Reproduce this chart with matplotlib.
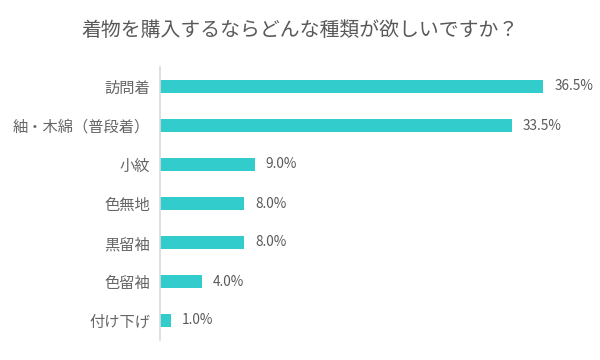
import matplotlib
matplotlib.use("Agg")
import matplotlib.pyplot as plt

plt.rcParams['font.family'] = ['Noto Sans CJK JP', 'DejaVu Sans']

categories = ["訪問着", "紬・木綿（普段着）", "小紋", "色無地", "黒留袖", "色留袖", "付け下げ"]
values = [36.5, 33.5, 9.0, 8.0, 8.0, 4.0, 1.0]
title = "着物を購入するならどんな種類が欲しいですか？"

bar_color = "#33CCCC"
text_color = "#595959"
label_color = "#666666"

fig = plt.figure(figsize=(6, 3.6), dpi=100)
ax = fig.add_axes([160/600, 1 - 340/360, 420/600, (340-67)/360])

ypos = list(range(len(categories)))
ax.barh(ypos, values, height=0.34, color=bar_color)
ax.set_ylim(len(categories) - 0.5, -0.5)
ax.set_xlim(0, 40)
ax.set_yticks(ypos)
ax.set_yticklabels(categories, fontsize=11, color=label_color)
ax.tick_params(axis='y', length=0, pad=7)
ax.set_xticks([])
for s in ['top', 'right', 'bottom']:
    ax.spines[s].set_visible(False)
ax.spines['left'].set_color("#D9D9D9")
ax.spines['left'].set_linewidth(1.2)

for y, v in zip(ypos, values):
    ax.annotate(f"{v:.1f}%", xy=(v, y), xytext=(8, 0), textcoords='offset points',
                va='center', ha='left', fontsize=9.8, color=text_color)

fig.text(0.5, 1 - 30/360, title, ha='center', va='center', fontsize=14.3, color=text_color)

fig.savefig("out.png", dpi=100)
